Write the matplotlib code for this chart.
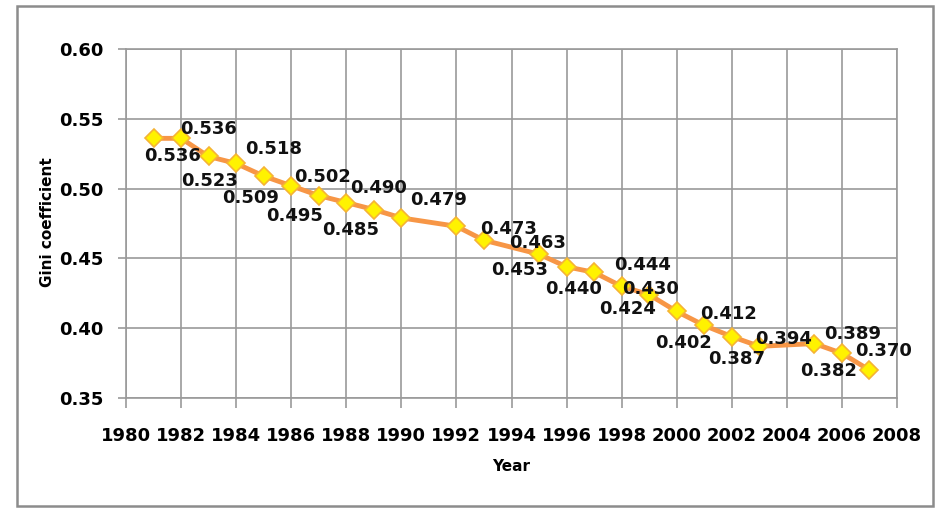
import matplotlib
matplotlib.use("Agg")
import matplotlib.pyplot as plt
from matplotlib.patches import Rectangle

# Gini coefficient per year
years = [1981, 1982, 1983, 1984, 1985, 1986, 1987, 1988, 1989, 1990,
         1992, 1993, 1995, 1996, 1997, 1998, 1999, 2000, 2001, 2002,
         2003, 2005, 2006, 2007]
gini = [0.536, 0.536, 0.523, 0.518, 0.509, 0.502, 0.495, 0.490, 0.485, 0.479,
        0.473, 0.463, 0.453, 0.444, 0.440, 0.430, 0.424, 0.412, 0.402, 0.394,
        0.387, 0.389, 0.382, 0.370]
labels = ["%.3f" % g for g in gini]

# where each value label sits relative to its marker (pixels, x right / y down)
label_offsets = [(19, 18), (27, -9), (1, 25), (37, -14), (-13, 22), (31, -9),
                 (-24, 20), (32, -15), (-23, 20), (37, -18), (52, 3), (54, 3),
                 (-19, 16), (76, -2), (-21, 17), (29, 3), (-22, 14), (52, 3),
                 (-21, 18), (52, 2), (-23, 13), (38, -10), (-13, 18), (14, -19)]

xticks = list(range(1980, 2009, 2))
yticks = [0.35, 0.40, 0.45, 0.50, 0.55, 0.60]

grid_col = "#9a9a9a"

fig = plt.figure(figsize=(9.35, 5.08), dpi=100)
ax = fig.add_axes([126 / 935, 1 - 398 / 508, (897 - 126) / 935, (398 - 49) / 508])

ax.plot(years, gini, color="#F79646", linewidth=3.5, marker="D",
        markersize=9, markerfacecolor="#FFF200", markeredgecolor="#F5B335",
        markeredgewidth=1.2, zorder=3)

for x, y, txt, (dx, dy) in zip(years, gini, labels, label_offsets):
    ax.annotate(txt, (x, y), xytext=(dx, -dy), textcoords="offset pixels",
                ha="center", va="center", fontsize=13, fontweight="bold",
                color="#111111", zorder=4)

ax.set_xlim(1980, 2008)
ax.set_ylim(0.35, 0.60)
ax.set_xticks(xticks)
ax.set_yticks(yticks)
ax.set_yticklabels(["%.2f" % t for t in yticks])
ax.grid(True, color=grid_col, linewidth=1.2)
ax.set_axisbelow(True)
for s in ax.spines.values():
    s.set_color(grid_col)
    s.set_linewidth(1.2)

ax.tick_params(axis="x", length=7, width=1.2, color=grid_col, pad=14,
               labelsize=13)
ax.tick_params(axis="y", length=6, width=1.2, color=grid_col, pad=10,
               labelsize=13)
for lab in ax.get_xticklabels() + ax.get_yticklabels():
    lab.set_fontweight("bold")

ax.set_xlabel("Year", fontsize=11, fontweight="bold", labelpad=10)
fig.text(47 / 935, 1 - 222 / 508, "Gini coefficient", rotation=90,
         ha="center", va="center", fontsize=11, fontweight="bold")

# grey frame around the whole chart
fig.patches.append(Rectangle((17 / 935, 2 / 508), (933 - 17) / 935, 500 / 508,
                             transform=fig.transFigure, fill=False,
                             edgecolor="#8c8c8c", linewidth=1.8))

fig.savefig("out.png", dpi=100)
